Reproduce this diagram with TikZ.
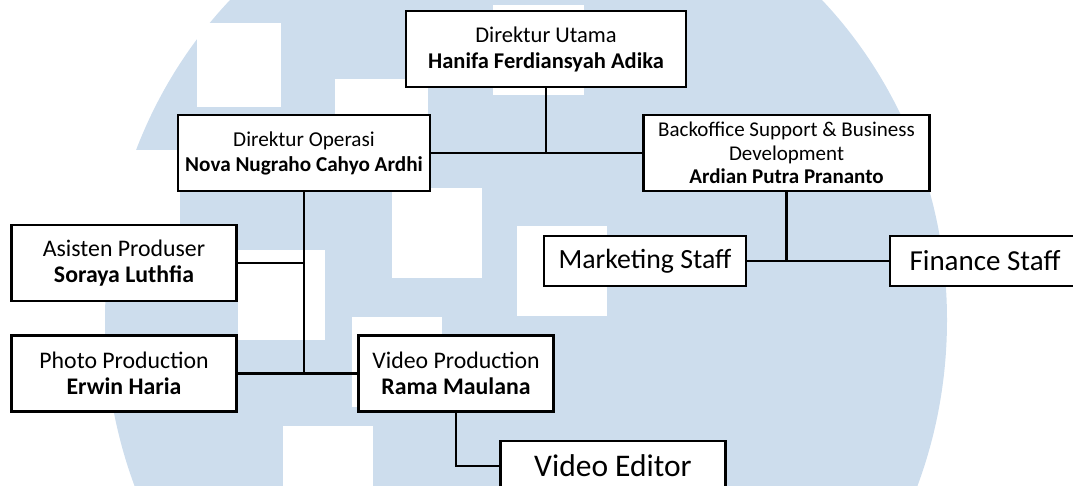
\documentclass[tikz,border=0pt]{standalone}
\usepackage{fontspec}
\setmainfont{Carlito}
\definecolor{wm}{RGB}{205,221,237}
\begin{document}
\begin{tikzpicture}[x=1pt,y=-1pt,
  box/.style={draw=black, line width=2.8pt, fill=white, inner sep=0pt, align=center},
  tall/.style={box, minimum height=76pt},
  flat/.style={box, minimum height=50pt},
  conn/.style={draw=black, line width=2.8pt},
  sq/.style={fill=white}]
\useasboundingbox (0,0) rectangle (1073,486);
% watermark
\begin{scope}
\clip (0,0) rectangle (1073,486);
\fill[wm] (526,320) ellipse [x radius=421, y radius=450];
\fill[sq] (90,150) rectangle (180,240);
\fill[sq] (197,23) rectangle (281,107);
\fill[sq] (335,79) rectangle (428,165);
\fill[sq] (493,5) rectangle (584,95);
\fill[sq] (392,188) rectangle (482,278);
\fill[sq] (517,226) rectangle (607,316);
\fill[sq] (238,250) rectangle (325,340);
\fill[sq] (352,317) rectangle (442,407);
\fill[sq] (283,426) rectangle (373,516);
\end{scope}
% nodes
\node[tall, minimum width=280pt, font=\fontsize{22.5}{26}\selectfont] (du) at (546,49)
  {Direktur Utama\\\textbf{Hanifa Ferdiansyah Adika}};
\node[tall, minimum width=252pt, font=\fontsize{21.2}{25}\selectfont] (do) at (304,153)
  {Direktur Operasi\\\textbf{Nova Nugraho Cahyo Ardhi}};
\node[tall, minimum width=286pt, font=\fontsize{21}{23.5}\selectfont] (bo) at (786.5,153)
  {Backoffice Support \& Business\\Development\\\textbf{Ardian Putra Prananto}};
\node[tall, minimum width=225pt, font=\fontsize{23.8}{26.5}\selectfont] (ap) at (124,263)
  {Asisten Produser\\\textbf{Soraya Luthfia}};
\node[tall, minimum width=225pt, font=\fontsize{23.8}{26.5}\selectfont] (pp) at (124,373.5)
  {Photo Production\\\textbf{Erwin Haria}};
\node[tall, minimum width=195pt, font=\fontsize{23.8}{26.5}\selectfont] (vp) at (456,373.5)
  {Video Production\\\textbf{Rama Maulana}};
\node[flat, minimum width=202pt, font=\fontsize{27.8}{30}\selectfont] (mk) at (645,261)
  {Marketing Staff};
\node[flat, minimum width=190pt, font=\fontsize{29}{32}\selectfont] (fi) at (985,261)
  {Finance Staff};
\node[flat, minimum width=225pt, font=\fontsize{31.5}{34}\selectfont] (ve) at (613,466)
  {Video Editor};
% connectors
\coordinate (j1) at (du.south |- do.east);
\draw[conn] (du.south) -- (j1);
\draw[conn] (do.east) -- (bo.west);
\coordinate (j2) at (do.south |- pp.east);
\draw[conn] (do.south) -- (j2);
\coordinate (j3) at (ap.east -| do.south);
\draw[conn] (ap.east) -- (j3);
\draw[conn] (pp.east) -- (vp.west);
\coordinate (j4) at (bo.south |- mk.east);
\draw[conn] (bo.south) -- (j4);
\draw[conn] (mk.east) -- (fi.west);
\draw[conn] (vp.south) |- (ve.west);
\end{tikzpicture}
\end{document}
